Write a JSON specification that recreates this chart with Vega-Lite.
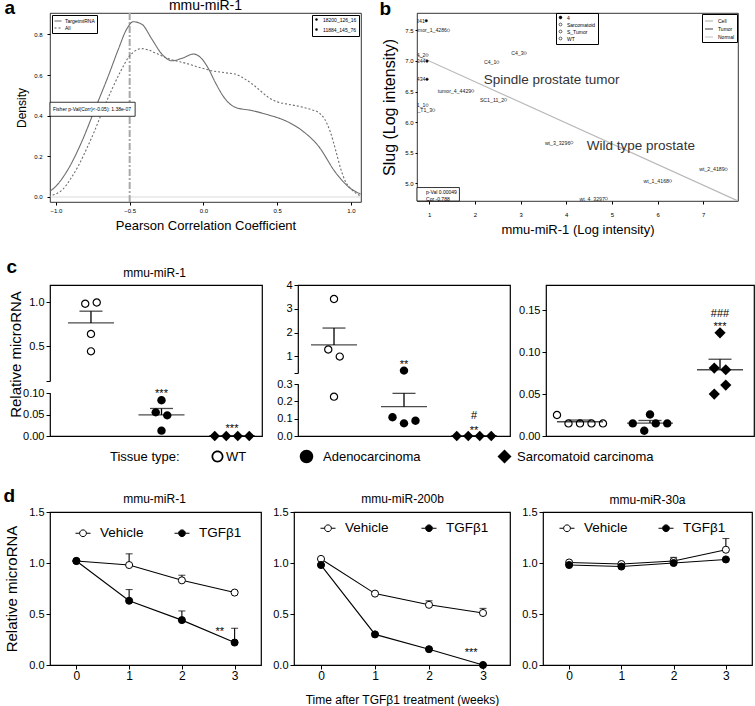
{
"$schema":"https://vega.github.io/schema/vega-lite/v6.json",
"background":"white",
"padding":{"left":2,"top":-3,"right":0,"bottom":0},
"config":{
 "font":"Liberation Sans",
 "view":{"stroke":"black"},
 "axis":{"grid":false,"domain":false,"labelOverlap":false,"labelColor":"black","tickColor":"black","titleColor":"black","titleFontWeight":"normal","labelFont":"Liberation Sans","titleFont":"Liberation Sans","tickWidth":1},
 "legend":{"labelColor":"black","titleColor":"black","titleFontWeight":"normal","labelFont":"Liberation Sans","titleFont":"Liberation Sans","labelLimit":300}
},
"datasets":{
 "density":[
  {"series":"TargetmiRNA","r":-1.075,"d":0.015},{"series":"TargetmiRNA","r":-1.007,"d":0.048},{"series":"TargetmiRNA","r":-0.916,"d":0.138},{"series":"TargetmiRNA","r":-0.826,"d":0.27},{"series":"TargetmiRNA","r":-0.735,"d":0.433},{"series":"TargetmiRNA","r":-0.644,"d":0.597},{"series":"TargetmiRNA","r":-0.576,"d":0.728},{"series":"TargetmiRNA","r":-0.52,"d":0.826},{"series":"TargetmiRNA","r":-0.475,"d":0.862},{"series":"TargetmiRNA","r":-0.418,"d":0.85},{"series":"TargetmiRNA","r":-0.35,"d":0.777},{"series":"TargetmiRNA","r":-0.282,"d":0.703},{"series":"TargetmiRNA","r":-0.214,"d":0.67},{"series":"TargetmiRNA","r":-0.146,"d":0.682},{"series":"TargetmiRNA","r":-0.067,"d":0.703},{"series":"TargetmiRNA","r":-0.01,"d":0.679},{"series":"TargetmiRNA","r":0.035,"d":0.63},{"series":"TargetmiRNA","r":0.08,"d":0.564},{"series":"TargetmiRNA","r":0.148,"d":0.482},{"series":"TargetmiRNA","r":0.216,"d":0.441},{"series":"TargetmiRNA","r":0.33,"d":0.425},{"series":"TargetmiRNA","r":0.443,"d":0.403},{"series":"TargetmiRNA","r":0.556,"d":0.375},{"series":"TargetmiRNA","r":0.67,"d":0.326},{"series":"TargetmiRNA","r":0.78,"d":0.25},{"series":"TargetmiRNA","r":0.896,"d":0.12},{"series":"TargetmiRNA","r":0.986,"d":0.048},{"series":"TargetmiRNA","r":1.065,"d":0.015},
  {"series":"All","r":-1.075,"d":0.003},{"series":"All","r":-1.0,"d":0.015},{"series":"All","r":-0.95,"d":0.04},{"series":"All","r":-0.9,"d":0.09},{"series":"All","r":-0.85,"d":0.15},{"series":"All","r":-0.79,"d":0.24},{"series":"All","r":-0.735,"d":0.33},{"series":"All","r":-0.68,"d":0.43},{"series":"All","r":-0.62,"d":0.53},{"series":"All","r":-0.56,"d":0.62},{"series":"All","r":-0.51,"d":0.685},{"series":"All","r":-0.46,"d":0.72},{"series":"All","r":-0.42,"d":0.73},{"series":"All","r":-0.38,"d":0.725},{"series":"All","r":-0.33,"d":0.71},{"series":"All","r":-0.27,"d":0.69},{"series":"All","r":-0.215,"d":0.675},{"series":"All","r":-0.16,"d":0.665},{"series":"All","r":-0.1,"d":0.654},{"series":"All","r":-0.05,"d":0.642},{"series":"All","r":0.012,"d":0.63},{"series":"All","r":0.06,"d":0.62},{"series":"All","r":0.1,"d":0.616},{"series":"All","r":0.16,"d":0.61},{"series":"All","r":0.216,"d":0.605},{"series":"All","r":0.27,"d":0.585},{"series":"All","r":0.33,"d":0.556},{"series":"All","r":0.39,"d":0.52},{"series":"All","r":0.44,"d":0.49},{"series":"All","r":0.5,"d":0.468},{"series":"All","r":0.56,"d":0.458},{"series":"All","r":0.62,"d":0.45},{"series":"All","r":0.67,"d":0.442},{"series":"All","r":0.73,"d":0.43},{"series":"All","r":0.78,"d":0.416},{"series":"All","r":0.82,"d":0.385},{"series":"All","r":0.86,"d":0.32},{"series":"All","r":0.9,"d":0.22},{"series":"All","r":0.93,"d":0.14},{"series":"All","r":0.96,"d":0.08},{"series":"All","r":1.0,"d":0.04},{"series":"All","r":1.065,"d":0.005}
 ],
 "a_ref":[{"r":-0.5}],
 "a_box":[{"x1":-1.04,"x2":-0.463,"y1":0.397,"y2":0.466,"tx":-1.02,"ty":0.432,"label":"Fisher p-Val(Corr)<-0.05): 1.38e-07"}],
 "a_genes":[{"gene":"18200_126_16"},{"gene":"11884_145_76"}],
 "b_pts":[
  {"name":"4341","x":0.934,"y":7.658,"grp":"4"},
  {"name":"tumor_1_4286","x":1.42,"y":7.5,"grp":"S_Tumor"},
  {"name":"C4_2","x":0.95,"y":7.096,"grp":"Sarcomatoid"},
  {"name":"4344","x":0.95,"y":6.998,"grp":"4"},
  {"name":"C4_3","x":3.1,"y":7.129,"grp":"Sarcomatoid"},
  {"name":"C4_1","x":2.5,"y":6.98,"grp":"Sarcomatoid"},
  {"name":"4434","x":0.95,"y":6.7,"grp":"4"},
  {"name":"tumor_4_4429","x":1.95,"y":6.51,"grp":"S_Tumor"},
  {"name":"SC1_11_2","x":2.67,"y":6.365,"grp":"S_Tumor"},
  {"name":"SC1_11_1","x":0.95,"y":6.277,"grp":"S_Tumor"},
  {"name":"SC1_T1_3","x":1.095,"y":6.195,"grp":"S_Tumor"},
  {"name":"wt_3_3296","x":4.12,"y":5.666,"grp":"WT"},
  {"name":"wt_2_4189","x":7.5,"y":5.229,"grp":"WT"},
  {"name":"wt_1_4168","x":6.28,"y":5.038,"grp":"WT"},
  {"name":"wt_4_3297","x":4.876,"y":4.749,"grp":"WT"}
 ],
 "b_fit":[{"x":0.731,"y":7.09,"fit":"Cell"},{"x":7.76,"y":4.71,"fit":"Cell"}],
 "b_ann":[{"label":"Spindle prostate tumor","x":2.19,"y":6.69},{"label":"Wild type prostate","x":4.45,"y":5.61}],
 "b_box":[{"x1":0.731,"x2":1.66,"y1":4.71,"y2":4.93}],
 "b_boxtext":[{"label":"p-Val 0.00049","x":0.93,"y":4.864},{"label":"Cor -0.788","x":0.93,"y":4.75}],
 "cpts":[
  {"gene":"mmu-miR-1","tissue":"WT","value":0.985,"slot":4},{"gene":"mmu-miR-1","tissue":"WT","value":1.0,"slot":6},{"gene":"mmu-miR-1","tissue":"WT","value":0.64,"slot":5},{"gene":"mmu-miR-1","tissue":"WT","value":0.44,"slot":5},
  {"gene":"mmu-miR-1","tissue":"Adenocarcinoma","value":0.083,"slot":5},{"gene":"mmu-miR-1","tissue":"Adenocarcinoma","value":0.055,"slot":4},{"gene":"mmu-miR-1","tissue":"Adenocarcinoma","value":0.048,"slot":6},{"gene":"mmu-miR-1","tissue":"Adenocarcinoma","value":0.0125,"slot":5},
  {"gene":"mmu-miR-1","tissue":"Sarcomatoid carcinoma","value":0,"slot":2},{"gene":"mmu-miR-1","tissue":"Sarcomatoid carcinoma","value":0,"slot":4},{"gene":"mmu-miR-1","tissue":"Sarcomatoid carcinoma","value":0,"slot":6},{"gene":"mmu-miR-1","tissue":"Sarcomatoid carcinoma","value":0,"slot":8},
  {"gene":"mmu-miR-200b","tissue":"WT","value":3.41,"slot":5},{"gene":"mmu-miR-200b","tissue":"WT","value":1.29,"slot":4},{"gene":"mmu-miR-200b","tissue":"WT","value":0.99,"slot":6},{"gene":"mmu-miR-200b","tissue":"WT","value":0.227,"slot":5},
  {"gene":"mmu-miR-200b","tissue":"Adenocarcinoma","value":0.4,"slot":5},{"gene":"mmu-miR-200b","tissue":"Adenocarcinoma","value":0.108,"slot":3},{"gene":"mmu-miR-200b","tissue":"Adenocarcinoma","value":0.073,"slot":5},{"gene":"mmu-miR-200b","tissue":"Adenocarcinoma","value":0.088,"slot":7},
  {"gene":"mmu-miR-200b","tissue":"Sarcomatoid carcinoma","value":0,"slot":2},{"gene":"mmu-miR-200b","tissue":"Sarcomatoid carcinoma","value":0,"slot":4},{"gene":"mmu-miR-200b","tissue":"Sarcomatoid carcinoma","value":0,"slot":6},{"gene":"mmu-miR-200b","tissue":"Sarcomatoid carcinoma","value":0,"slot":8},
  {"gene":"Slug","tissue":"WT","value":0.025,"slot":1},{"gene":"Slug","tissue":"WT","value":0.015,"slot":3},{"gene":"Slug","tissue":"WT","value":0.015,"slot":5},{"gene":"Slug","tissue":"WT","value":0.015,"slot":7},{"gene":"Slug","tissue":"WT","value":0.015,"slot":9},
  {"gene":"Slug","tissue":"Adenocarcinoma","value":0.015,"slot":2},{"gene":"Slug","tissue":"Adenocarcinoma","value":0.0063,"slot":4},{"gene":"Slug","tissue":"Adenocarcinoma","value":0.0257,"slot":5},{"gene":"Slug","tissue":"Adenocarcinoma","value":0.015,"slot":6},{"gene":"Slug","tissue":"Adenocarcinoma","value":0.015,"slot":8},
  {"gene":"Slug","tissue":"Sarcomatoid carcinoma","value":0.05,"slot":4},{"gene":"Slug","tissue":"Sarcomatoid carcinoma","value":0.081,"slot":4},{"gene":"Slug","tissue":"Sarcomatoid carcinoma","value":0.123,"slot":5},{"gene":"Slug","tissue":"Sarcomatoid carcinoma","value":0.079,"slot":6},{"gene":"Slug","tissue":"Sarcomatoid carcinoma","value":0.0607,"slot":6}
 ],
 "csum":[
  {"gene":"mmu-miR-1","tissue":"WT","mean":0.765,"upper":0.9},{"gene":"mmu-miR-1","tissue":"Adenocarcinoma","mean":0.049,"upper":0.064},{"gene":"mmu-miR-1","tissue":"Sarcomatoid carcinoma","mean":0,"upper":0},
  {"gene":"mmu-miR-200b","tissue":"WT","mean":1.48,"upper":2.19},{"gene":"mmu-miR-200b","tissue":"Adenocarcinoma","mean":0.169,"upper":0.246},{"gene":"mmu-miR-200b","tissue":"Sarcomatoid carcinoma","mean":0,"upper":0},
  {"gene":"Slug","tissue":"WT","mean":0.017,"upper":0.019},{"gene":"Slug","tissue":"Adenocarcinoma","mean":0.0154,"upper":0.0185},{"gene":"Slug","tissue":"Sarcomatoid carcinoma","mean":0.079,"upper":0.0915}
 ],
 "cstars":[
  {"gene":"mmu-miR-1","tissue":"Adenocarcinoma","y":0.0916,"label":"***"},
  {"gene":"mmu-miR-1","tissue":"Sarcomatoid carcinoma","y":0.0086,"label":"***"},
  {"gene":"mmu-miR-200b","tissue":"Adenocarcinoma","y":0.498,"label":"**"},
  {"gene":"mmu-miR-200b","tissue":"Sarcomatoid carcinoma","y":0.097,"label":"#"},
  {"gene":"mmu-miR-200b","tissue":"Sarcomatoid carcinoma","y":0.0115,"label":"**"},
  {"gene":"Slug","tissue":"Sarcomatoid carcinoma","y":0.1423,"label":"###"},
  {"gene":"Slug","tissue":"Sarcomatoid carcinoma","y":0.1263,"label":"***"}
 ],
 "dpts":[
  {"gene":"mmu-miR-1","group":"Vehicle","t":0,"mean":1.02,"upper":1.02},{"gene":"mmu-miR-1","group":"Vehicle","t":1,"mean":0.98,"upper":1.09},{"gene":"mmu-miR-1","group":"Vehicle","t":2,"mean":0.83,"upper":0.88},{"gene":"mmu-miR-1","group":"Vehicle","t":3,"mean":0.71,"upper":0.72},
  {"gene":"mmu-miR-1","group":"TGFβ1","t":0,"mean":1.02,"upper":1.02},{"gene":"mmu-miR-1","group":"TGFβ1","t":1,"mean":0.63,"upper":0.74},{"gene":"mmu-miR-1","group":"TGFβ1","t":2,"mean":0.44,"upper":0.53},{"gene":"mmu-miR-1","group":"TGFβ1","t":3,"mean":0.22,"upper":0.36},
  {"gene":"mmu-miR-200b","group":"Vehicle","t":0,"mean":1.04,"upper":1.04},{"gene":"mmu-miR-200b","group":"Vehicle","t":1,"mean":0.7,"upper":0.71},{"gene":"mmu-miR-200b","group":"Vehicle","t":2,"mean":0.59,"upper":0.63},{"gene":"mmu-miR-200b","group":"Vehicle","t":3,"mean":0.51,"upper":0.555},
  {"gene":"mmu-miR-200b","group":"TGFβ1","t":0,"mean":0.98,"upper":0.99},{"gene":"mmu-miR-200b","group":"TGFβ1","t":1,"mean":0.3,"upper":0.31},{"gene":"mmu-miR-200b","group":"TGFβ1","t":2,"mean":0.155,"upper":0.16},{"gene":"mmu-miR-200b","group":"TGFβ1","t":3,"mean":0.0,"upper":0.0},
  {"gene":"mmu-miR-30a","group":"Vehicle","t":0,"mean":1.005,"upper":1.01},{"gene":"mmu-miR-30a","group":"Vehicle","t":1,"mean":0.99,"upper":1.0},{"gene":"mmu-miR-30a","group":"Vehicle","t":2,"mean":1.02,"upper":1.055},{"gene":"mmu-miR-30a","group":"Vehicle","t":3,"mean":1.13,"upper":1.24},
  {"gene":"mmu-miR-30a","group":"TGFβ1","t":0,"mean":0.98,"upper":0.985},{"gene":"mmu-miR-30a","group":"TGFβ1","t":1,"mean":0.965,"upper":0.97},{"gene":"mmu-miR-30a","group":"TGFβ1","t":2,"mean":1.0,"upper":1.01},{"gene":"mmu-miR-30a","group":"TGFβ1","t":3,"mean":1.035,"upper":1.04}
 ],
 "dstars":[{"gene":"mmu-miR-1","t":2.72,"y":0.298,"label":"**"},{"gene":"mmu-miR-200b","t":2.78,"y":0.092,"label":"***"}]
},
"spacing":21,
"resolve":{"scale":{"color":"independent","fill":"independent","shape":"independent","strokeDash":"independent","xOffset":"independent"},"legend":{"color":"independent","fill":"independent","shape":"independent","strokeDash":"independent"}},
"vconcat":[
 {"spacing":19,
  "resolve":{"scale":{"color":"independent","fill":"independent","shape":"independent","strokeDash":"independent","xOffset":"independent"},"legend":{"color":"independent","fill":"independent","shape":"independent","strokeDash":"independent"}},
  "vconcat":[
   {"bounds":"flush","spacing":56,
    "resolve":{"scale":{"color":"independent","fill":"independent","shape":"independent","strokeDash":"independent"},"legend":{"color":"independent","fill":"independent","shape":"independent","strokeDash":"independent"}},
    "hconcat":[
     {"width":311,"height":189,
      "view":{"stroke":"black","strokeWidth":0.8},
      "resolve":{"axis":{"x":"independent"}},
      "layer":[
       {"data":{"name":"a_ref"},"mark":{"type":"rule","color":"#d0d0d0","strokeWidth":0.8},
        "encoding":{"y":{"datum":0,"type":"quantitative","scale":{"domain":[-0.0246,0.905],"nice":false,"zero":false},
          "axis":{"values":[0,0.2,0.4,0.6,0.8],"format":".1f","labelOverlap":false,"labelFontSize":6,"tickSize":3,"labelPadding":5,"title":"Density","titleFontSize":12,"titleX":-22}}}},
       {"data":{"name":"a_ref"},"mark":{"type":"rule","color":"#a8a8a8","strokeWidth":2,"strokeDash":[7,2,2,2]},
        "encoding":{"x":{"field":"r","type":"quantitative","scale":{"domain":[-1.04,1.068],"nice":false,"zero":false},
          "axis":{"orient":"bottom","values":[-1,-0.5,0,0.5,1],"format":".1f","labelOverlap":false,"labelFontSize":6,"tickSize":3,"labelPadding":2,"title":"Pearson Correlation Coefficient","titleFontSize":13,"titlePadding":6}}}},
       {"data":{"name":"density"},"mark":{"type":"line","color":"#6e6e6e","strokeWidth":1.1,"interpolate":"monotone","clip":true},
        "encoding":{"x":{"field":"r","type":"quantitative","scale":{"domain":[-1.04,1.068],"nice":false,"zero":false},
          "axis":{"orient":"top","labels":false,"ticks":false,"domain":false,"title":"a","titleX":-46,"titleY":0,"titleAlign":"left","titleBaseline":"alphabetic","titleAngle":0,"titleFontSize":19,"titleFontWeight":"bold"}},
         "y":{"field":"d","type":"quantitative","scale":{"domain":[-0.0246,0.905],"nice":false,"zero":false}},
         "strokeDash":{"field":"series","type":"nominal","scale":{"domain":["TargetmiRNA","All"],"range":[[1,0],[2,2]]},
          "legend":{"orient":"top-left","offset":2,"title":null,"strokeColor":"black","padding":2,"labelFontSize":5,"symbolType":"stroke","symbolSize":49,"symbolStrokeWidth":1,"symbolStrokeColor":"#555","rowPadding":0,"labelOffset":3}}}},
       {"data":{"name":"a_box"},"mark":{"type":"rect","fill":"white","stroke":"black","strokeWidth":0.8},
        "encoding":{"x":{"field":"x1","type":"quantitative","scale":{"domain":[-1.04,1.068],"nice":false,"zero":false},
          "axis":{"orient":"top","labels":false,"ticks":false,"domain":false,"title":"mmu-miR-1","titleX":155,"titleY":-4,"titleAlign":"center","titleBaseline":"alphabetic","titleAngle":0,"titleFontSize":14}},"x2":{"field":"x2"},
         "y":{"field":"y1","type":"quantitative","scale":{"domain":[-0.0246,0.905],"nice":false,"zero":false}},"y2":{"field":"y2"}}},
       {"data":{"name":"a_box"},"mark":{"type":"text","fontSize":5,"align":"left","baseline":"middle"},
        "encoding":{"x":{"field":"tx","type":"quantitative","scale":{"domain":[-1.04,1.068],"nice":false,"zero":false},"axis":null},
         "y":{"field":"ty","type":"quantitative","scale":{"domain":[-0.0246,0.905],"nice":false,"zero":false}},"text":{"field":"label"}}},
       {"data":{"name":"a_genes"},"mark":{"type":"point","filled":true,"color":"black","opacity":0},
        "encoding":{"x":{"datum":-0.5,"type":"quantitative","scale":{"domain":[-1.04,1.068],"nice":false,"zero":false},"axis":null},
         "y":{"datum":0.4,"type":"quantitative","scale":{"domain":[-0.0246,0.905],"nice":false,"zero":false}},
         "shape":{"field":"gene","type":"nominal","sort":null,"scale":{"range":["circle","circle"]},
          "legend":{"orient":"top-right","offset":2,"title":null,"strokeColor":"black","padding":2,"labelFontSize":5,"symbolSize":6,"symbolFillColor":"black","symbolOpacity":1,"rowPadding":1}}}}
      ]},
     {"width":321,"height":188,
      "view":{"stroke":"black","strokeWidth":0.8},
      "resolve":{"axis":{"x":"independent"}},
      "layer":[
       {"data":{"name":"b_fit"},"mark":{"type":"line","strokeWidth":1.2,"clip":true},
        "encoding":{"x":{"field":"x","type":"quantitative","scale":{"domain":[0.731,7.76],"nice":false,"zero":false},
          "axis":{"orient":"bottom","values":[1,2,3,4,5,6,7],"format":"d","labelOverlap":false,"labelFontSize":6,"tickSize":3,"labelPadding":7,"title":"mmu-miR-1 (Log intensity)","titleFontSize":13,"titlePadding":6}},
         "y":{"field":"y","type":"quantitative","scale":{"domain":[4.71,7.784],"nice":false,"zero":false},
          "axis":{"values":[5,5.5,6,6.5,7,7.5],"format":".1f","labelOverlap":false,"labelFontSize":6,"tickSize":2,"labelPadding":2,"title":"Slug (Log intensity)","titleFontSize":16,"titleX":-20}},
         "color":{"field":"fit","type":"nominal","scale":{"domain":["Cell","Tumor","Normal"],"range":["#b8b8b8","#606060","#cccccc"]},
          "legend":{"orient":"top-right","offset":1,"title":null,"strokeColor":"black","padding":2,"labelFontSize":5,"symbolType":"stroke","symbolSize":64,"symbolStrokeWidth":1.2,"rowPadding":0}}}},
       {"data":{"name":"b_pts"},"mark":{"type":"point","shape":"circle","size":7,"filled":true,"stroke":"#444","strokeWidth":0.5,"opacity":1},
        "encoding":{"x":{"field":"x","type":"quantitative","scale":{"domain":[0.731,7.76],"nice":false,"zero":false},
          "axis":{"orient":"top","labels":false,"ticks":false,"domain":false,"title":"b","titleX":-38,"titleY":1,"titleAlign":"left","titleBaseline":"alphabetic","titleAngle":0,"titleFontSize":19,"titleFontWeight":"bold"}},
         "y":{"field":"y","type":"quantitative","scale":{"domain":[4.71,7.784],"nice":false,"zero":false},
          "axis":{"values":[5,5.5,6,6.5,7,7.5],"format":".1f","labelOverlap":false,"labelFontSize":6,"tickSize":2,"labelPadding":2,"title":"Slug (Log intensity)","titleFontSize":16,"titleX":-20}},
         "fill":{"field":"grp","type":"nominal","scale":{"domain":["4","Sarcomatoid","S_Tumor","WT"],"range":["black","white","white","white"]},
          "legend":{"orient":"none","legendX":139,"legendY":0,"title":null,"strokeColor":"black","padding":2,"labelFontSize":5,"symbolSize":8,"symbolStrokeColor":"black","symbolStrokeWidth":0.6,"rowPadding":0}}}},
       {"data":{"name":"b_pts"},"mark":{"type":"text","fontSize":5.2,"align":"right","baseline":"middle","dx":-1.5,"clip":true,"color":"#222"},
        "encoding":{"x":{"field":"x","type":"quantitative","scale":{"domain":[0.731,7.76],"nice":false,"zero":false},"axis":null},
         "y":{"field":"y","type":"quantitative","scale":{"domain":[4.71,7.784],"nice":false,"zero":false},
          "axis":{"values":[5,5.5,6,6.5,7,7.5],"format":".1f","labelOverlap":false,"labelFontSize":6,"tickSize":2,"labelPadding":2,"title":"Slug (Log intensity)","titleFontSize":16,"titleX":-20}},"text":{"field":"name"}}},
       {"data":{"name":"b_ann"},"mark":{"type":"text","fontSize":13.5,"align":"left","baseline":"middle","color":"#333"},
        "encoding":{"x":{"field":"x","type":"quantitative","scale":{"domain":[0.731,7.76],"nice":false,"zero":false},"axis":null},
         "y":{"field":"y","type":"quantitative","scale":{"domain":[4.71,7.784],"nice":false,"zero":false},
          "axis":{"values":[5,5.5,6,6.5,7,7.5],"format":".1f","labelOverlap":false,"labelFontSize":6,"tickSize":2,"labelPadding":2,"title":"Slug (Log intensity)","titleFontSize":16,"titleX":-20}},"text":{"field":"label"}}},
       {"data":{"name":"b_box"},"mark":{"type":"rect","fill":"white","stroke":"black","strokeWidth":0.8},
        "encoding":{"x":{"field":"x1","type":"quantitative","scale":{"domain":[0.731,7.76],"nice":false,"zero":false},"axis":null},"x2":{"field":"x2"},
         "y":{"field":"y1","type":"quantitative","scale":{"domain":[4.71,7.784],"nice":false,"zero":false},
          "axis":{"values":[5,5.5,6,6.5,7,7.5],"format":".1f","labelOverlap":false,"labelFontSize":6,"tickSize":2,"labelPadding":2,"title":"Slug (Log intensity)","titleFontSize":16,"titleX":-20}},"y2":{"field":"y2"}}},
       {"data":{"name":"b_boxtext"},"mark":{"type":"text","fontSize":5,"align":"left","baseline":"middle"},
        "encoding":{"x":{"field":"x","type":"quantitative","scale":{"domain":[0.731,7.76],"nice":false,"zero":false},"axis":null},
         "y":{"field":"y","type":"quantitative","scale":{"domain":[4.71,7.784],"nice":false,"zero":false},
          "axis":{"values":[5,5.5,6,6.5,7,7.5],"format":".1f","labelOverlap":false,"labelFontSize":6,"tickSize":2,"labelPadding":2,"title":"Slug (Log intensity)","titleFontSize":16,"titleX":-20}},"text":{"field":"label"}}}
      ]}
    ]},
   {"bounds":"flush","spacing":36,
    "resolve":{"scale":{"fill":"independent","shape":"independent","xOffset":"independent"},"legend":{"fill":"independent","shape":"independent"}},
    "hconcat":[
     {"width":212,"height":151,
      "view":{"stroke":"black","strokeWidth":1.2,"strokeDash":[618,12,200]},
      "resolve":{"axis":{"x":"independent"}},
      "layer":[
       {"data":{"name":"csum"},"transform":[{"filter":"datum.gene === 'mmu-miR-1'"}],"mark":{"type":"rule","color":"black","strokeWidth":1.3},
        "encoding":{"x":{"field":"tissue","type":"nominal","scale":{"type":"band","domain":["WT","Adenocarcinoma","Sarcomatoid carcinoma"],"paddingInner":0.3475,"paddingOuter":0.177,"align":0.72},
          "axis":{"orient":"top","labels":false,"ticks":false,"domain":false,"title":"c","titleX":-44,"titleY":-13,"titleAlign":"left","titleBaseline":"alphabetic","titleAngle":0,"titleFontSize":19,"titleFontWeight":"bold"}},
         "y":{"field":"mean","type":"quantitative","scale":{"domain":[0,0.1,0.1001,1.2],"range":[151,108,96,0],"nice":false,"zero":false},
          "axis":{"values":[0,0.05,0.1,0.1001,0.5,1.0],"labelOverlap":false,"labelExpr":"datum.value == 0.1001 ? '' : (datum.value >= 0.5 ? format(datum.value, '.1f') : format(datum.value, '.2f'))","title":"Relative microRNA","titleFontSize":15,"titleY":69,"titleX":-27,"labelFontSize":11,"tickSize":4,"labelPadding":2}},
         "y2":{"field":"upper"}}},
       {"data":{"name":"csum"},"transform":[{"filter":"datum.gene === 'mmu-miR-1'"}],"mark":{"type":"tick","orient":"horizontal","size":23,"thickness":1.3,"color":"black"},
        "encoding":{"x":{"field":"tissue","type":"nominal","scale":{"type":"band","domain":["WT","Adenocarcinoma","Sarcomatoid carcinoma"],"paddingInner":0.3475,"paddingOuter":0.177,"align":0.72},
          "axis":{"orient":"top","labels":false,"ticks":false,"domain":false,"title":"mmu-miR-1","titleX":104,"titleY":-8.5,"titleAlign":"center","titleBaseline":"alphabetic","titleAngle":0,"titleFontSize":12}},
         "y":{"field":"upper","type":"quantitative","scale":{"domain":[0,0.1,0.1001,1.2],"range":[151,108,96,0],"nice":false,"zero":false},
          "axis":{"values":[0,0.05,0.1,0.1001,0.5,1.0],"labelOverlap":false,"labelExpr":"datum.value == 0.1001 ? '' : (datum.value >= 0.5 ? format(datum.value, '.1f') : format(datum.value, '.2f'))","title":"Relative microRNA","titleFontSize":15,"titleY":69,"titleX":-27,"labelFontSize":11,"tickSize":4,"labelPadding":2}}}},
       {"data":{"name":"csum"},"transform":[{"filter":"datum.gene === 'mmu-miR-1'"}],"mark":{"type":"tick","orient":"horizontal","size":46,"thickness":1.3,"color":"black"},
        "encoding":{"x":{"field":"tissue","type":"nominal","scale":{"type":"band","domain":["WT","Adenocarcinoma","Sarcomatoid carcinoma"],"paddingInner":0.3475,"paddingOuter":0.177,"align":0.72},"axis":null},
         "y":{"field":"mean","type":"quantitative","scale":{"domain":[0,0.1,0.1001,1.2],"range":[151,108,96,0],"nice":false,"zero":false},
          "axis":{"values":[0,0.05,0.1,0.1001,0.5,1.0],"labelOverlap":false,"labelExpr":"datum.value == 0.1001 ? '' : (datum.value >= 0.5 ? format(datum.value, '.1f') : format(datum.value, '.2f'))","title":"Relative microRNA","titleFontSize":15,"titleY":69,"titleX":-27,"labelFontSize":11,"tickSize":4,"labelPadding":2}}}},
       {"data":{"name":"cpts"},"transform":[{"filter":"datum.gene === 'mmu-miR-1'"}],"mark":{"type":"point","filled":true,"size":64,"strokeWidth":0,"opacity":1},
        "encoding":{"x":{"field":"tissue","type":"nominal","scale":{"type":"band","domain":["WT","Adenocarcinoma","Sarcomatoid carcinoma"],"paddingInner":0.3475,"paddingOuter":0.177,"align":0.72},"axis":null},
         "xOffset":{"field":"slot","type":"ordinal","scale":{"domain":[1,2,3,4,5,6,7,8,9],"paddingInner":0,"paddingOuter":0}},
         "y":{"field":"value","type":"quantitative","scale":{"domain":[0,0.1,0.1001,1.2],"range":[151,108,96,0],"nice":false,"zero":false},
          "axis":{"values":[0,0.05,0.1,0.1001,0.5,1.0],"labelOverlap":false,"labelExpr":"datum.value == 0.1001 ? '' : (datum.value >= 0.5 ? format(datum.value, '.1f') : format(datum.value, '.2f'))","title":"Relative microRNA","titleFontSize":15,"titleY":69,"titleX":-27,"labelFontSize":11,"tickSize":4,"labelPadding":2}},
         "shape":{"field":"tissue","type":"nominal","scale":{"domain":["WT","Adenocarcinoma","Sarcomatoid carcinoma"],"range":["M1.05,0A1.05,1.05,0,1,1,-1.05,0A1.05,1.05,0,1,1,1.05,0ZM0.75,0A0.75,0.75,0,1,0,-0.75,0A0.75,0.75,0,1,0,0.75,0Z","M1.05,0A1.05,1.05,0,1,1,-1.05,0A1.05,1.05,0,1,1,1.05,0Z","M-1.3,0L0,-1.3L1.3,0L0,1.3Z"]},
          "legend":{"orient":"none","legendX":60,"legendY":165,"direction":"horizontal","title":"Tissue type:","titleOrient":"left","titleFontSize":13,"titlePadding":31,"titleBaseline":"middle","labelFontSize":13,"labelOffset":2,"symbolSize":130,"symbolStrokeWidth":0,"values":["WT"],"padding":0}},
         "fill":{"field":"tissue","type":"nominal","scale":{"domain":["WT","Adenocarcinoma","Sarcomatoid carcinoma"],"range":["black","black","black"]},
          "legend":{"orient":"none","legendX":60,"legendY":165,"direction":"horizontal","title":"Tissue type:","titleOrient":"left","titleFontSize":13,"titlePadding":31,"titleBaseline":"middle","labelFontSize":13,"labelOffset":2,"symbolSize":130,"symbolStrokeWidth":0,"values":["WT"],"padding":0}}}},
       {"data":{"name":"cstars"},"transform":[{"filter":"datum.gene === 'mmu-miR-1'"}],"mark":{"type":"text","fontSize":11,"baseline":"alphabetic","align":"center"},
        "encoding":{"x":{"field":"tissue","type":"nominal","scale":{"type":"band","domain":["WT","Adenocarcinoma","Sarcomatoid carcinoma"],"paddingInner":0.3475,"paddingOuter":0.177,"align":0.72},"axis":null},
         "y":{"field":"y","type":"quantitative","scale":{"domain":[0,0.1,0.1001,1.2],"range":[151,108,96,0],"nice":false,"zero":false},
          "axis":{"values":[0,0.05,0.1,0.1001,0.5,1.0],"labelOverlap":false,"labelExpr":"datum.value == 0.1001 ? '' : (datum.value >= 0.5 ? format(datum.value, '.1f') : format(datum.value, '.2f'))","title":"Relative microRNA","titleFontSize":15,"titleY":69,"titleX":-27,"labelFontSize":11,"tickSize":4,"labelPadding":2}},"text":{"field":"label"}}}
      ]},
     {"width":212,"height":151,
      "view":{"stroke":"black","strokeWidth":1.2,"strokeDash":[627,11,200]},
      "layer":[
       {"data":{"name":"csum"},"transform":[{"filter":"datum.gene === 'mmu-miR-200b'"}],"mark":{"type":"rule","color":"black","strokeWidth":1.3},
        "encoding":{"x":{"field":"tissue","type":"nominal","scale":{"type":"band","domain":["WT","Adenocarcinoma","Sarcomatoid carcinoma"],"paddingInner":0.343,"paddingOuter":0.186,"align":0.5},
          "axis":{"orient":"top","labels":false,"ticks":false,"domain":false,"title":"mmu-miR-200b","titleX":104,"titleY":-8.5,"titleAlign":"center","titleBaseline":"alphabetic","titleAngle":0,"titleFontSize":12}},
         "y":{"field":"mean","type":"quantitative","scale":{"domain":[0,0.3,0.30001,4],"range":[151,99,88,0],"nice":false,"zero":false},
          "axis":{"values":[0,0.1,0.2,0.3,0.30001,1,2,3,4],"labelOverlap":false,"labelExpr":"datum.value == 0.30001 ? '' : (datum.value >= 1 ? format(datum.value, 'd') : format(datum.value, '.1f'))","title":null,"labelFontSize":11,"tickSize":4,"labelPadding":2}},
         "y2":{"field":"upper"}}},
       {"data":{"name":"csum"},"transform":[{"filter":"datum.gene === 'mmu-miR-200b'"}],"mark":{"type":"tick","orient":"horizontal","size":23,"thickness":1.3,"color":"black"},
        "encoding":{"x":{"field":"tissue","type":"nominal","scale":{"type":"band","domain":["WT","Adenocarcinoma","Sarcomatoid carcinoma"],"paddingInner":0.343,"paddingOuter":0.186,"align":0.5},"axis":null},
         "y":{"field":"upper","type":"quantitative","scale":{"domain":[0,0.3,0.30001,4],"range":[151,99,88,0],"nice":false,"zero":false},
          "axis":{"values":[0,0.1,0.2,0.3,0.30001,1,2,3,4],"labelOverlap":false,"labelExpr":"datum.value == 0.30001 ? '' : (datum.value >= 1 ? format(datum.value, 'd') : format(datum.value, '.1f'))","title":null,"labelFontSize":11,"tickSize":4,"labelPadding":2}}}},
       {"data":{"name":"csum"},"transform":[{"filter":"datum.gene === 'mmu-miR-200b'"}],"mark":{"type":"tick","orient":"horizontal","size":46,"thickness":1.3,"color":"black"},
        "encoding":{"x":{"field":"tissue","type":"nominal","scale":{"type":"band","domain":["WT","Adenocarcinoma","Sarcomatoid carcinoma"],"paddingInner":0.343,"paddingOuter":0.186,"align":0.5},"axis":null},
         "y":{"field":"mean","type":"quantitative","scale":{"domain":[0,0.3,0.30001,4],"range":[151,99,88,0],"nice":false,"zero":false},
          "axis":{"values":[0,0.1,0.2,0.3,0.30001,1,2,3,4],"labelOverlap":false,"labelExpr":"datum.value == 0.30001 ? '' : (datum.value >= 1 ? format(datum.value, 'd') : format(datum.value, '.1f'))","title":null,"labelFontSize":11,"tickSize":4,"labelPadding":2}}}},
       {"data":{"name":"cpts"},"transform":[{"filter":"datum.gene === 'mmu-miR-200b'"}],"mark":{"type":"point","filled":true,"size":64,"strokeWidth":0,"opacity":1},
        "encoding":{"x":{"field":"tissue","type":"nominal","scale":{"type":"band","domain":["WT","Adenocarcinoma","Sarcomatoid carcinoma"],"paddingInner":0.343,"paddingOuter":0.186,"align":0.5},"axis":null},
         "xOffset":{"field":"slot","type":"ordinal","scale":{"domain":[1,2,3,4,5,6,7,8,9],"paddingInner":0,"paddingOuter":0}},
         "y":{"field":"value","type":"quantitative","scale":{"domain":[0,0.3,0.30001,4],"range":[151,99,88,0],"nice":false,"zero":false},
          "axis":{"values":[0,0.1,0.2,0.3,0.30001,1,2,3,4],"labelOverlap":false,"labelExpr":"datum.value == 0.30001 ? '' : (datum.value >= 1 ? format(datum.value, 'd') : format(datum.value, '.1f'))","title":null,"labelFontSize":11,"tickSize":4,"labelPadding":2}},
         "shape":{"field":"tissue","type":"nominal","scale":{"domain":["WT","Adenocarcinoma","Sarcomatoid carcinoma"],"range":["M1.05,0A1.05,1.05,0,1,1,-1.05,0A1.05,1.05,0,1,1,1.05,0ZM0.75,0A0.75,0.75,0,1,0,-0.75,0A0.75,0.75,0,1,0,0.75,0Z","M1.05,0A1.05,1.05,0,1,1,-1.05,0A1.05,1.05,0,1,1,1.05,0Z","M-1.3,0L0,-1.3L1.3,0L0,1.3Z"]},
          "legend":{"orient":"none","legendX":2,"legendY":165,"direction":"horizontal","title":null,"labelFontSize":13,"labelOffset":10,"symbolSize":165,"symbolStrokeWidth":0,"values":["Adenocarcinoma"],"padding":0}},
         "fill":{"field":"tissue","type":"nominal","scale":{"domain":["WT","Adenocarcinoma","Sarcomatoid carcinoma"],"range":["black","black","black"]},
          "legend":{"orient":"none","legendX":2,"legendY":165,"direction":"horizontal","title":null,"labelFontSize":13,"labelOffset":10,"symbolSize":165,"symbolStrokeWidth":0,"values":["Adenocarcinoma"],"padding":0}}}},
       {"data":{"name":"cstars"},"transform":[{"filter":"datum.gene === 'mmu-miR-200b'"}],"mark":{"type":"text","fontSize":11,"baseline":"alphabetic","align":"center"},
        "encoding":{"x":{"field":"tissue","type":"nominal","scale":{"type":"band","domain":["WT","Adenocarcinoma","Sarcomatoid carcinoma"],"paddingInner":0.343,"paddingOuter":0.186,"align":0.5},"axis":null},
         "y":{"field":"y","type":"quantitative","scale":{"domain":[0,0.3,0.30001,4],"range":[151,99,88,0],"nice":false,"zero":false},
          "axis":{"values":[0,0.1,0.2,0.3,0.30001,1,2,3,4],"labelOverlap":false,"labelExpr":"datum.value == 0.30001 ? '' : (datum.value >= 1 ? format(datum.value, 'd') : format(datum.value, '.1f'))","title":null,"labelFontSize":11,"tickSize":4,"labelPadding":2}},"text":{"field":"label"}}}
      ]},
     {"width":208,"height":151,
      "view":{"stroke":"black","strokeWidth":1.2},
      "layer":[
       {"data":{"name":"csum"},"transform":[{"filter":"datum.gene === 'Slug'"}],"mark":{"type":"rule","color":"black","strokeWidth":1.3},
        "encoding":{"x":{"field":"tissue","type":"nominal","scale":{"type":"band","domain":["WT","Adenocarcinoma","Sarcomatoid carcinoma"],"paddingInner":0.343,"paddingOuter":0.157,"align":0.5},
          "axis":{"orient":"top","labels":false,"ticks":false,"domain":false,"title":"Slug","titleX":102,"titleY":-8.5,"titleAlign":"center","titleBaseline":"alphabetic","titleAngle":0,"titleFontSize":12}},
         "y":{"field":"mean","type":"quantitative","scale":{"domain":[0,0.18],"nice":false,"zero":false},
          "axis":{"values":[0,0.05,0.1,0.15],"format":".2f","labelOverlap":false,"title":null,"labelFontSize":11,"tickSize":4,"labelPadding":2}},
         "y2":{"field":"upper"}}},
       {"data":{"name":"csum"},"transform":[{"filter":"datum.gene === 'Slug'"}],"mark":{"type":"tick","orient":"horizontal","size":23,"thickness":1.3,"color":"black"},
        "encoding":{"x":{"field":"tissue","type":"nominal","scale":{"type":"band","domain":["WT","Adenocarcinoma","Sarcomatoid carcinoma"],"paddingInner":0.343,"paddingOuter":0.157,"align":0.5},"axis":null},
         "y":{"field":"upper","type":"quantitative","scale":{"domain":[0,0.18],"nice":false,"zero":false}}}},
       {"data":{"name":"csum"},"transform":[{"filter":"datum.gene === 'Slug'"}],"mark":{"type":"tick","orient":"horizontal","size":46,"thickness":1.3,"color":"black"},
        "encoding":{"x":{"field":"tissue","type":"nominal","scale":{"type":"band","domain":["WT","Adenocarcinoma","Sarcomatoid carcinoma"],"paddingInner":0.343,"paddingOuter":0.157,"align":0.5},"axis":null},
         "y":{"field":"mean","type":"quantitative","scale":{"domain":[0,0.18],"nice":false,"zero":false}}}},
       {"data":{"name":"cpts"},"transform":[{"filter":"datum.gene === 'Slug'"}],"mark":{"type":"point","filled":true,"size":64,"strokeWidth":0,"opacity":1},
        "encoding":{"x":{"field":"tissue","type":"nominal","scale":{"type":"band","domain":["WT","Adenocarcinoma","Sarcomatoid carcinoma"],"paddingInner":0.343,"paddingOuter":0.157,"align":0.5},"axis":null},
         "xOffset":{"field":"slot","type":"ordinal","scale":{"domain":[1,2,3,4,5,6,7,8,9],"paddingInner":0,"paddingOuter":0}},
         "y":{"field":"value","type":"quantitative","scale":{"domain":[0,0.18],"nice":false,"zero":false}},
         "shape":{"field":"tissue","type":"nominal","scale":{"domain":["WT","Adenocarcinoma","Sarcomatoid carcinoma"],"range":["M1.05,0A1.05,1.05,0,1,1,-1.05,0A1.05,1.05,0,1,1,1.05,0ZM0.75,0A0.75,0.75,0,1,0,-0.75,0A0.75,0.75,0,1,0,0.75,0Z","M1.05,0A1.05,1.05,0,1,1,-1.05,0A1.05,1.05,0,1,1,1.05,0Z","M-1.4,0L0,-1.4L1.4,0L0,1.4Z"]},
          "legend":{"orient":"none","legendX":-48,"legendY":165,"direction":"horizontal","title":null,"labelFontSize":13,"labelOffset":6,"symbolSize":100,"symbolStrokeWidth":0,"values":["Sarcomatoid carcinoma"],"padding":0}},
         "fill":{"field":"tissue","type":"nominal","scale":{"domain":["WT","Adenocarcinoma","Sarcomatoid carcinoma"],"range":["black","black","black"]},
          "legend":{"orient":"none","legendX":-48,"legendY":165,"direction":"horizontal","title":null,"labelFontSize":13,"labelOffset":6,"symbolSize":100,"symbolStrokeWidth":0,"values":["Sarcomatoid carcinoma"],"padding":0}}}},
       {"data":{"name":"cstars"},"transform":[{"filter":"datum.gene === 'Slug'"}],"mark":{"type":"text","fontSize":11,"baseline":"alphabetic","align":"center"},
        "encoding":{"x":{"field":"tissue","type":"nominal","scale":{"type":"band","domain":["WT","Adenocarcinoma","Sarcomatoid carcinoma"],"paddingInner":0.343,"paddingOuter":0.157,"align":0.5},"axis":null},
         "y":{"field":"y","type":"quantitative","scale":{"domain":[0,0.18],"nice":false,"zero":false}},"text":{"field":"label"}}}
      ]}
    ]}
  ]},
 {"bounds":"flush","spacing":33,
  "resolve":{"scale":{"fill":"independent"},"legend":{"fill":"independent"}},
  "hconcat":[
   {"width":211,"height":153,
    "view":{"stroke":"black","strokeWidth":1.2},
    "resolve":{"axis":{"x":"independent"}},
    "layer":[
     {"data":{"name":"dpts"},"transform":[{"filter":"datum.gene === 'mmu-miR-1'"}],"mark":{"type":"line","color":"black","strokeWidth":1.1},
      "encoding":{"x":{"field":"t","type":"quantitative","scale":{"domain":[-0.5,3.5],"nice":false,"zero":false},"axis":{"orient":"bottom","values":[0,1,2,3],"format":"d","labelOverlap":false,"labelFontSize":12,"tickSize":4,"labelPadding":1,"title":null}},
       "y":{"field":"mean","type":"quantitative","scale":{"domain":[0,1.5],"nice":false},"axis":{"values":[0,0.5,1,1.5],"format":".1f","labelOverlap":false,"labelFontSize":11,"tickSize":4,"labelPadding":2,"title":"Relative microRNA","titleFontSize":15,"titleX":-31}},
       "detail":{"field":"group"}}},
     {"data":{"name":"dpts"},"transform":[{"filter":"datum.gene === 'mmu-miR-1'"}],"mark":{"type":"rule","color":"black","strokeWidth":1.1},
      "encoding":{"x":{"field":"t","type":"quantitative","scale":{"domain":[-0.5,3.5],"nice":false,"zero":false},
        "axis":{"orient":"top","labels":false,"ticks":false,"domain":false,"title":"d","titleX":-47,"titleY":-10.3,"titleAlign":"left","titleBaseline":"alphabetic","titleAngle":0,"titleFontSize":19,"titleFontWeight":"bold"}},
       "y":{"field":"mean","type":"quantitative","scale":{"domain":[0,1.5],"nice":false}},"y2":{"field":"upper"}}},
     {"data":{"name":"dpts"},"transform":[{"filter":"datum.gene === 'mmu-miR-1'"}],"mark":{"type":"tick","orient":"horizontal","size":7,"thickness":1.1,"color":"black"},
      "encoding":{"x":{"field":"t","type":"quantitative","scale":{"domain":[-0.5,3.5],"nice":false,"zero":false},
        "axis":{"orient":"top","labels":false,"ticks":false,"domain":false,"title":"mmu-miR-1","titleX":104,"titleY":-10,"titleAlign":"center","titleBaseline":"alphabetic","titleAngle":0,"titleFontSize":12}},
       "y":{"field":"upper","type":"quantitative","scale":{"domain":[0,1.5],"nice":false}}}},
     {"data":{"name":"dpts"},"transform":[{"filter":"datum.gene === 'mmu-miR-1'"}],"mark":{"type":"point","filled":true,"shape":"circle","size":50,"stroke":"black","strokeWidth":1,"opacity":1},
      "encoding":{"x":{"field":"t","type":"quantitative","scale":{"domain":[-0.5,3.5],"nice":false,"zero":false},"axis":null},
       "y":{"field":"mean","type":"quantitative","scale":{"domain":[0,1.5],"nice":false}},
       "fill":{"field":"group","type":"nominal","scale":{"domain":["Vehicle","TGFβ1"],"range":["white","black"]},
        "legend":{"orient":"none","legendX":25,"legendY":13,"direction":"horizontal","title":null,"symbolType":"M-1,0H-0.45M0.45,0A0.45,0.45,0,1,1,-0.45,0A0.45,0.45,0,1,1,0.45,0M0.45,0H1","symbolSize":225,"symbolStrokeColor":"black","symbolStrokeWidth":1,"labelFontSize":13.5,"labelOffset":9,"columnPadding":28,"padding":0}}}},
     {"data":{"name":"dstars"},"transform":[{"filter":"datum.gene === 'mmu-miR-1'"}],"mark":{"type":"text","fontSize":11,"baseline":"alphabetic","align":"center"},
      "encoding":{"x":{"field":"t","type":"quantitative","scale":{"domain":[-0.5,3.5],"nice":false,"zero":false},"axis":null},
       "y":{"field":"y","type":"quantitative","scale":{"domain":[0,1.5],"nice":false}},"text":{"field":"label"}}}
    ]},
   {"width":216,"height":153,
    "view":{"stroke":"black","strokeWidth":1.2},
    "resolve":{"axis":{"x":"independent"}},
    "layer":[
     {"data":{"name":"dpts"},"transform":[{"filter":"datum.gene === 'mmu-miR-200b'"}],"mark":{"type":"line","color":"black","strokeWidth":1.1},
      "encoding":{"x":{"field":"t","type":"quantitative","scale":{"domain":[-0.5,3.5],"nice":false,"zero":false},"axis":{"orient":"bottom","values":[0,1,2,3],"format":"d","labelOverlap":false,"labelFontSize":12,"tickSize":4,"labelPadding":1,"title":"Time after TGFβ1 treatment (weeks)","titleFontSize":12,"titlePadding":13}},
       "y":{"field":"mean","type":"quantitative","scale":{"domain":[0,1.5],"nice":false},"axis":{"values":[0,0.5,1,1.5],"format":".1f","labelOverlap":false,"labelFontSize":11,"tickSize":4,"labelPadding":2,"title":null}},
       "detail":{"field":"group"}}},
     {"data":{"name":"dpts"},"transform":[{"filter":"datum.gene === 'mmu-miR-200b'"}],"mark":{"type":"rule","color":"black","strokeWidth":1.1},
      "encoding":{"x":{"field":"t","type":"quantitative","scale":{"domain":[-0.5,3.5],"nice":false,"zero":false},
        "axis":{"orient":"top","labels":false,"ticks":false,"domain":false,"title":"mmu-miR-200b","titleX":108,"titleY":-10,"titleAlign":"center","titleBaseline":"alphabetic","titleAngle":0,"titleFontSize":12}},
       "y":{"field":"mean","type":"quantitative","scale":{"domain":[0,1.5],"nice":false}},"y2":{"field":"upper"}}},
     {"data":{"name":"dpts"},"transform":[{"filter":"datum.gene === 'mmu-miR-200b'"}],"mark":{"type":"tick","orient":"horizontal","size":7,"thickness":1.1,"color":"black"},
      "encoding":{"x":{"field":"t","type":"quantitative","scale":{"domain":[-0.5,3.5],"nice":false,"zero":false},"axis":null},
       "y":{"field":"upper","type":"quantitative","scale":{"domain":[0,1.5],"nice":false}}}},
     {"data":{"name":"dpts"},"transform":[{"filter":"datum.gene === 'mmu-miR-200b'"}],"mark":{"type":"point","filled":true,"shape":"circle","size":50,"stroke":"black","strokeWidth":1,"opacity":1},
      "encoding":{"x":{"field":"t","type":"quantitative","scale":{"domain":[-0.5,3.5],"nice":false,"zero":false},"axis":null},
       "y":{"field":"mean","type":"quantitative","scale":{"domain":[0,1.5],"nice":false}},
       "fill":{"field":"group","type":"nominal","scale":{"domain":["Vehicle","TGFβ1"],"range":["white","black"]},
        "legend":{"orient":"none","legendX":26,"legendY":8,"direction":"horizontal","title":null,"symbolType":"M-1,0H-0.45M0.45,0A0.45,0.45,0,1,1,-0.45,0A0.45,0.45,0,1,1,0.45,0M0.45,0H1","symbolSize":225,"symbolStrokeColor":"black","symbolStrokeWidth":1,"labelFontSize":13.5,"labelOffset":9,"columnPadding":30,"padding":0}}}},
     {"data":{"name":"dstars"},"transform":[{"filter":"datum.gene === 'mmu-miR-200b'"}],"mark":{"type":"text","fontSize":11,"baseline":"alphabetic","align":"center"},
      "encoding":{"x":{"field":"t","type":"quantitative","scale":{"domain":[-0.5,3.5],"nice":false,"zero":false},"axis":null},
       "y":{"field":"y","type":"quantitative","scale":{"domain":[0,1.5],"nice":false}},"text":{"field":"label"}}}
    ]},
   {"width":209,"height":153,
    "view":{"stroke":"black","strokeWidth":1.2},
    "resolve":{"axis":{"x":"independent"}},
    "layer":[
     {"data":{"name":"dpts"},"transform":[{"filter":"datum.gene === 'mmu-miR-30a'"}],"mark":{"type":"line","color":"black","strokeWidth":1.1},
      "encoding":{"x":{"field":"t","type":"quantitative","scale":{"domain":[-0.5,3.5],"nice":false,"zero":false},"axis":{"orient":"bottom","values":[0,1,2,3],"format":"d","labelOverlap":false,"labelFontSize":12,"tickSize":4,"labelPadding":1,"title":null}},
       "y":{"field":"mean","type":"quantitative","scale":{"domain":[0,1.5],"nice":false},"axis":{"values":[0,0.5,1,1.5],"format":".1f","labelOverlap":false,"labelFontSize":11,"tickSize":4,"labelPadding":2,"title":null}},
       "detail":{"field":"group"}}},
     {"data":{"name":"dpts"},"transform":[{"filter":"datum.gene === 'mmu-miR-30a'"}],"mark":{"type":"rule","color":"black","strokeWidth":1.1},
      "encoding":{"x":{"field":"t","type":"quantitative","scale":{"domain":[-0.5,3.5],"nice":false,"zero":false},
        "axis":{"orient":"top","labels":false,"ticks":false,"domain":false,"title":"mmu-miR-30a","titleX":104,"titleY":-9,"titleAlign":"center","titleBaseline":"alphabetic","titleAngle":0,"titleFontSize":12}},
       "y":{"field":"mean","type":"quantitative","scale":{"domain":[0,1.5],"nice":false}},"y2":{"field":"upper"}}},
     {"data":{"name":"dpts"},"transform":[{"filter":"datum.gene === 'mmu-miR-30a'"}],"mark":{"type":"tick","orient":"horizontal","size":7,"thickness":1.1,"color":"black"},
      "encoding":{"x":{"field":"t","type":"quantitative","scale":{"domain":[-0.5,3.5],"nice":false,"zero":false},"axis":null},
       "y":{"field":"upper","type":"quantitative","scale":{"domain":[0,1.5],"nice":false}}}},
     {"data":{"name":"dpts"},"transform":[{"filter":"datum.gene === 'mmu-miR-30a'"}],"mark":{"type":"point","filled":true,"shape":"circle","size":50,"stroke":"black","strokeWidth":1,"opacity":1},
      "encoding":{"x":{"field":"t","type":"quantitative","scale":{"domain":[-0.5,3.5],"nice":false,"zero":false},"axis":null},
       "y":{"field":"mean","type":"quantitative","scale":{"domain":[0,1.5],"nice":false}},
       "fill":{"field":"group","type":"nominal","scale":{"domain":["Vehicle","TGFβ1"],"range":["white","black"]},
        "legend":{"orient":"none","legendX":16,"legendY":8,"direction":"horizontal","title":null,"symbolType":"M-1,0H-0.45M0.45,0A0.45,0.45,0,1,1,-0.45,0A0.45,0.45,0,1,1,0.45,0M0.45,0H1","symbolSize":225,"symbolStrokeColor":"black","symbolStrokeWidth":1,"labelFontSize":13.5,"labelOffset":9,"columnPadding":28,"padding":0}}}}
    ]}
  ]}
]
}
